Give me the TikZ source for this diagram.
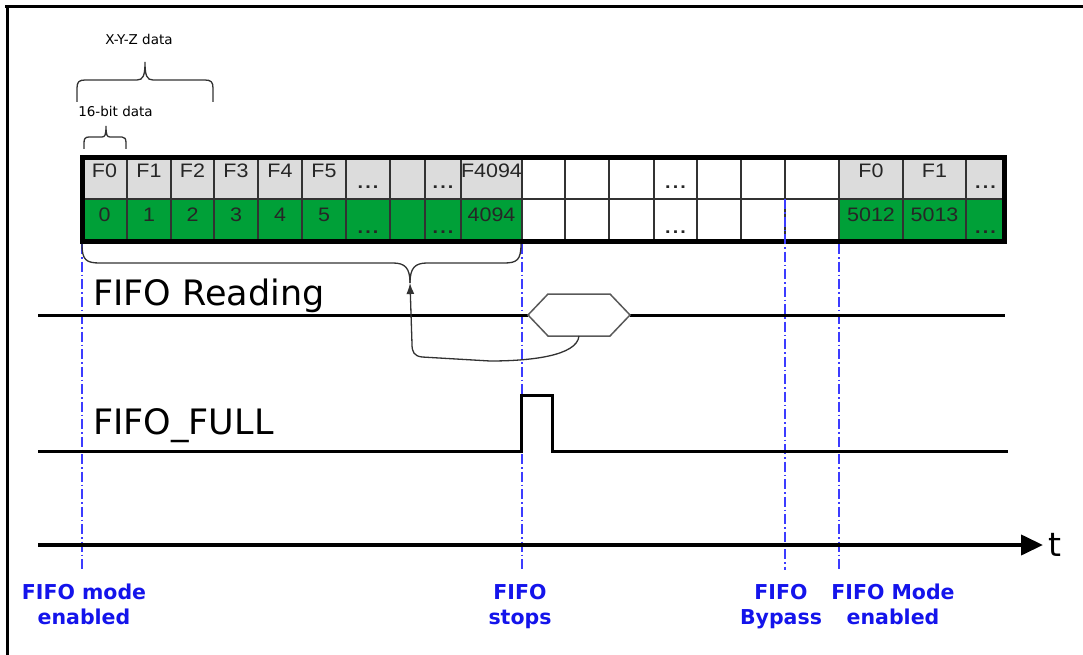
\documentclass[tikz,border=0pt]{standalone}
\usepackage{fontspec}
\setmainfont{DejaVu Sans}
\newfontfamily\cellfont[FakeStretch=1.1]{Liberation Sans}
\usetikzlibrary{arrows.meta}
\definecolor{cellgray}{RGB}{220,220,220}
\definecolor{cellgreen}{RGB}{0,160,56}
\definecolor{evblue}{RGB}{20,20,235}
\definecolor{lineblue}{RGB}{60,60,255}
\definecolor{gridc}{RGB}{50,50,50}
\tikzset{
  celltxt/.style={font=\cellfont\fontsize{19.5}{22}\selectfont, inner sep=0, anchor=base, text=black!85},
  dotstxt/.style={font=\cellfont\bfseries\fontsize{18}{20}\selectfont, inner sep=0, anchor=base, text=black!85},
  gridline/.style={draw=gridc, line width=1.4},
  bracestyle/.style={draw=gridc, line width=1.3},
  sig/.style={line width=3, black, line join=miter},
  hexstyle/.style={draw=black!65, line width=1.5},
  evline/.style={lineblue, line width=1.2, dash pattern=on 10pt off 3pt on 1.5pt off 3pt},
  evlabel/.style={font=\bfseries\fontsize{20.5}{25}\selectfont, text=evblue, align=center, anchor=north, inner sep=0},
  sigtxt/.style={font=\fontsize{35}{40}\selectfont, inner sep=0, anchor=base west},
  smalltxt/.style={font=\fontsize{13.5}{16}\selectfont, inner sep=0, anchor=base}
}
\begin{document}
\begin{tikzpicture}[x=1pt,y=-1pt]
\useasboundingbox (0,0) rectangle (1083,655);
% frame
\draw[line width=3] (5,7) -- (1083,7);
\draw[line width=3] (7,7) -- (7,655);

% top braces
\node[smalltxt] (xyz) at (139,45) {X-Y-Z data};
\draw[bracestyle] (77,102) -- (77,88) .. controls (77,82) and (79,80) .. (85,80) -- (137,80)
  .. controls (143,80) and (145,76) .. (145,62) .. controls (145,76) and (147,80) .. (153,80)
  -- (205,80) .. controls (211,80) and (213,82) .. (213,88) -- (213,102);
\node[smalltxt] (bit16) at (115.5,117) {16-bit data};
\draw[bracestyle] (84,149) -- (84,143) .. controls (84,139) and (85,137) .. (89,137) -- (102,137)
  .. controls (105,137) and (106,135) .. (106,126) .. controls (106,135) and (107,137) .. (110,137)
  -- (122,137) .. controls (125,137) and (126,139) .. (126,143) -- (126,149);

% table fills
\fill[cellgray] (82,160) rectangle (522,199);
\fill[cellgreen] (82,199) rectangle (522,240);
\fill[cellgray] (839,160) rectangle (1005,199);
\fill[cellgreen] (839,199) rectangle (1005,240);
% grid
\foreach \x in {127,171,214,258,302,346,390,425,461,522,565,609,654,697,741,785,839,903,966}
  \draw[gridline] (\x,160) -- (\x,240);
\draw[gridline] (82,199) -- (1005,199);
\draw[line width=5] (82,157.5) rectangle (1004,241.5);

% cell texts
\foreach \n/\x/\t/\b in {0/104.5/F0/0,1/149/F1/1,2/192.5/F2/2,3/236/F3/3,4/280/F4/4,5/324/F5/5,9/491.5/F4094/4094,17/871/F0/5012,18/934.5/F1/5013}{
  \node[celltxt] (top\n) at (\x,178) {\t};
  \node[celltxt] (bot\n) at (\x,221) {\b};
}
\foreach \n/\x in {6/368,8/443,13/675.5,19/985.5}{
  \node[dotstxt] (dt\n) at (\x,188) {.\kern2.2pt.\kern2.2pt.};
  \node[dotstxt] (db\n) at (\x,233) {.\kern2.2pt.\kern2.2pt.};
}

% event lines
\coordinate (e1t) at (82,244);  \coordinate (e1b) at (82,570);
\coordinate (e2t) at (522,244); \coordinate (e2b) at (522,570);
\coordinate (e3t) at (785,199); \coordinate (e3b) at (785,570);
\coordinate (e4t) at (839,244); \coordinate (e4b) at (839,570);
\draw[evline] (e1t) -- (e1b);
\draw[evline] (e2t) -- (e2b);
\draw[evline] (e3t) -- (e3b);
\draw[evline] (e4t) -- (e4b);

% lower brace
\draw[bracestyle] (82,244) .. controls (82,260) and (86,263) .. (100,263) -- (393,263)
  .. controls (405,263) and (410,268) .. (410,283);
\draw[bracestyle] (410,283) .. controls (410,268) and (415,263) .. (427,263) -- (504,263)
  .. controls (517,263) and (521,260) .. (521,244);

% FIFO Reading
\node[sigtxt] (rdlab) at (93,305) {FIFO Reading};
\coordinate (hexL) at (528,315);
\coordinate (hexTL) at (548,294);
\coordinate (hexTR) at (610,294);
\coordinate (hexR) at (630,315);
\coordinate (hexBR) at (610,336);
\coordinate (hexBL) at (548,336);
\coordinate (hexB) at (579,336);
\coordinate (rdS) at (38,315);
\coordinate (rdE) at (1005,315);
\draw[sig] (rdS) -- (hexL);
\draw[sig] (hexR) -- (rdE);
\draw[hexstyle] (hexL) -- (hexTL) -- (hexTR) -- (hexR) -- (hexBR) -- (hexBL) -- cycle;
\coordinate (brtip) at (410,283);
\draw[bracestyle, -{Latex[length=11pt,width=8pt]}] (hexB) .. controls (577,356) and (530,361) .. (490,361)
  -- (422,357) .. controls (414,356) and (412,352) .. (412,344) -- (brtip);

% FIFO_FULL
\node[sigtxt] (fulllab) at (93,434) {FIFO\_FULL};
\draw[sig] (38,451) -- (521,451) -- (521,395) -- (552,395) -- (552,451) -- (1008,451);

% time axis
\coordinate (tS) at (38,545);
\coordinate (tE) at (1043,545);
\draw[line width=4, -{Triangle[length=22pt,width=20pt]}] (tS) -- (tE);
\node[sigtxt, font=\fontsize{33}{38}\selectfont] (tlab) at (1048,556) {t};

% event labels
\node[evlabel] (l1) at (84,584) {FIFO mode\\enabled};
\node[evlabel] (l2) at (520,584) {FIFO\\stops};
\node[evlabel] (l3) at (781,584) {FIFO\\Bypass};
\node[evlabel] (l4) at (893,584) {FIFO Mode\\enabled};
\end{tikzpicture}
\end{document}
